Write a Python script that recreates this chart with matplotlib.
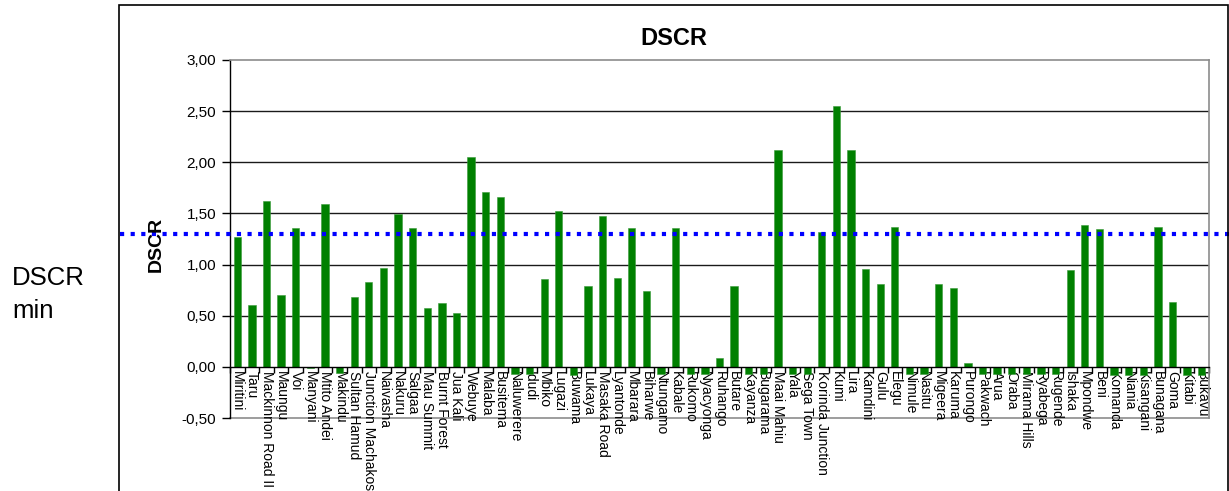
import matplotlib
matplotlib.use("Agg")
import matplotlib.pyplot as plt
from matplotlib.patches import Rectangle
from matplotlib.ticker import FixedLocator, FuncFormatter

plt.rcParams['font.family'] = ['Liberation Sans', 'DejaVu Sans']

# Stations along the corridor and their debt service coverage ratio
stations = [
    "Miritini", "Taru", "Mackinnon Road II", "Maungu", "Voi", "Manyani",
    "Mtito Andei", "Makindu", "Sultan Hamud", "Junction Machakos", "Naivasha",
    "Nakuru", "Salgaa", "Mau Summit", "Burnt Forest", "Jua Kali", "Webuye",
    "Malaba", "Busitema", "Naluwerere", "Idudi", "Mbiko", "Lugazi", "Buwama",
    "Lukaya", "Masaka Road", "Lyantonde", "Mbarara", "Biharwe", "Ntungamo",
    "Kabale", "Rukomo", "Nyacyonga", "Ruhango", "Butare", "Kayanza",
    "Bugarama", "Maai Mahiu", "Yala", "Sega Town", "Korinda Junction", "Kumi",
    "Lira", "Kamdini", "Gulu", "Elegu", "Nimule", "Nasitu", "Migeera",
    "Karuma", "Purongo", "Pakwach", "Arua", "Oraba", "Mirama Hills",
    "Ryabega", "Rugende", "Ishaka", "Mpondwe", "Beni", "Komanda", "Niania",
    "Kisangani", "Bunagana", "Goma", "Kitabi", "Bukavu",
]
dscr = [
    1.27, 0.60, 1.62, 0.70, 1.36, -0.01, 1.59, -0.06, 0.68, 0.83, 0.97,
    1.49, 1.36, 0.58, 0.62, 0.53, 2.05, 1.71, 1.66, -0.07, -0.07, 0.86,
    1.52, -0.08, 0.79, 1.47, 0.87, 1.36, 0.74, -0.07, 1.36, -0.07, -0.07,
    0.09, 0.79, -0.07, -0.07, 2.12, -0.07, -0.07, 1.32, 2.55, 2.12, 0.96,
    0.81, 1.37, -0.07, -0.07, 0.81, 0.77, 0.04, -0.07, -0.07, -0.07, -0.07,
    -0.07, -0.07, 0.95, 1.39, 1.35, -0.08, -0.08, -0.08, 1.37, 0.63, -0.08,
    -0.08,
]
dscr_min = 1.30
y_ticks = [-0.5, 0.0, 0.5, 1.0, 1.5, 2.0, 2.5, 3.0]

W, H = 1229, 491
fig = plt.figure(figsize=(W / 100, H / 100), dpi=100)

# chart area frame
fig.patches.append(Rectangle((119 / W, -0.05), (1228 - 119) / W, 1.05 - 5 / H,
                             transform=fig.transFigure, fill=False,
                             edgecolor='black', linewidth=1.2, zorder=0))

L, R, T, B = 230, 1209, 60, 418
ax = fig.add_axes([L / W, 1 - B / H, (R - L) / W, (B - T) / H])

x = list(range(len(stations)))
ax.bar(x, dscr, width=0.5, color='#008000', edgecolor='#3a9a3a',
       linewidth=0.4, zorder=3)

ax.set_xlim(-0.5, len(stations) - 0.5)
ax.set_ylim(y_ticks[0], y_ticks[-1])

# gridlines
for v in y_ticks[2:-1]:
    ax.axhline(v, color='#1a1a1a', linewidth=1.0, zorder=1)
ax.axhline(y_ticks[0], color='#8c8c8c', linewidth=1.2, zorder=1, clip_on=False)

# spines
for s in ('top', 'right'):
    ax.spines[s].set_color('#8c8c8c')
    ax.spines[s].set_linewidth(1.2)
ax.spines['left'].set_color('black')
ax.spines['left'].set_linewidth(1.0)
ax.spines['bottom'].set_position(('data', 0))
ax.spines['bottom'].set_color('black')
ax.spines['bottom'].set_linewidth(1.0)
ax.spines['bottom'].set_zorder(4)

ax.set_yticks(y_ticks)
ax.yaxis.set_major_formatter(FuncFormatter(lambda v, p: f"{v:.2f}".replace('.', ',')))
ax.tick_params(axis='y', direction='out', length=6, width=1, labelsize=11, pad=4)

ax.set_xticks(x)
ax.set_xticklabels(stations, rotation=-90, ha='center', va='top', fontsize=10)
ax.xaxis.set_minor_locator(FixedLocator([i - 0.5 for i in range(len(stations) + 1)]))
ax.tick_params(axis='x', which='major', length=0, pad=3)
ax.tick_params(axis='x', which='minor', direction='out', length=4, width=1)

# minimum DSCR threshold, running across the whole chart
ax.axhline(dscr_min, xmin=(120 - L) / (R - L), xmax=(W - L) / (R - L),
           color='#0000ff', linewidth=3.0, linestyle=(0, (1.0, 1.55)),
           dash_capstyle='butt', clip_on=False, zorder=5)

fig.text(673.5 / W, 1 - 45 / H, 'DSCR', fontsize=17, fontweight='bold',
         ha='center', va='baseline')
fig.text(156 / W, 1 - 244 / H, 'DSCR', fontsize=14, fontweight='bold',
         rotation=90, ha='center', va='center')
fig.text(12 / W, 1 - 285 / H, 'DSCR', fontsize=18.5, ha='left', va='baseline')
fig.text(12 / W, 1 - 318 / H, 'min', fontsize=18.5, ha='left', va='baseline')

fig.savefig('out.png', dpi=100)
